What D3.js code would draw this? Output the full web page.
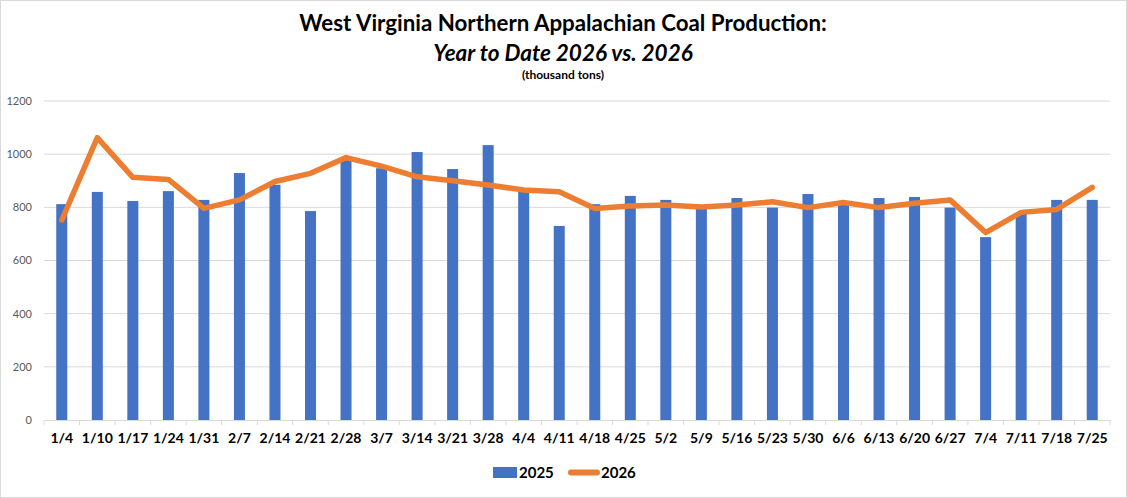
<!DOCTYPE html>
<html>
<head>
<meta charset="utf-8">
<script src="https://cdn.jsdelivr.net/npm/d3@7"></script>
<style>
  body { margin: 0; background: #fff; }
  svg { display: block; font-family: Lato, "Open Sans", sans-serif; }
</style>
</head>
<body>
<svg id="chart" width="1127" height="498"></svg>
<script>
// weeks ending
const weeks = ["1/4","1/10","1/17","1/24","1/31","2/7","2/14","2/21","2/28","3/7","3/14","3/21","3/28",
  "4/4","4/11","4/18","4/25","5/2","5/9","5/16","5/23","5/30","6/6","6/13","6/20","6/27","7/4","7/11","7/18","7/25"];
const prod2025 = [812,858,824,861,828,929,885,786,978,947,1008,944,1034,
  862,730,812,843,828,800,835,799,850,812,835,839,799,688,775,828,828];
const prod2026 = [752,1062,913,905,796,828,897,928,987,955,915,900,884,
  865,859,796,805,809,801,809,821,799,818,799,815,828,705,781,792,875];
const yTicks = [0,200,400,600,800,1000,1200];

const svg = d3.select("#chart");
const W = 1127, H = 498;
const m = {left: 44, right: 17, top: 101, bottom: 78};

// outer border
svg.append("rect").attr("x", 0.5).attr("y", 0.5).attr("width", W - 1).attr("height", H - 1)
  .attr("fill", "#fff").attr("stroke", "#d9d9d9");

const x = d3.scaleBand().domain(weeks).range([m.left, W - m.right]);
const y = d3.scaleLinear().domain([0, 1200]).range([H - m.bottom, m.top]);

// gridlines
svg.append("g").selectAll("line").data(yTicks.slice(1)).join("line")
  .attr("x1", m.left).attr("x2", W - m.right)
  .attr("y1", d => y(d)).attr("y2", d => y(d))
  .attr("stroke", "#d9d9d9");

// y labels
svg.append("g").selectAll("text").data(yTicks).join("text")
  .attr("x", 32).attr("y", d => y(d)).attr("dy", "0.35em")
  .attr("text-anchor", "end").attr("font-size", 11).attr("fill", "#595959")
  .text(d => d);

// bars
const bw = x.bandwidth() * 0.31;
svg.append("g").selectAll("rect").data(weeks).join("rect")
  .attr("x", (d) => x(d) + x.bandwidth() / 2 - bw / 2)
  .attr("y", (d, i) => y(prod2025[i]))
  .attr("width", bw)
  .attr("height", (d, i) => y(0) - y(prod2025[i]))
  .attr("fill", "#4472c4");

// x axis
const xAxis = svg.append("g").attr("transform", `translate(0,${y(0)})`)
  .call(d3.axisBottom(x).tickSize(0).tickPadding(13));
xAxis.select(".domain").attr("stroke", "#d9d9d9");
xAxis.selectAll("text").attr("font-size", 14).attr("font-weight", "bold").attr("fill", "#000")
  .attr("font-family", "Lato, sans-serif");
// category boundary ticks
svg.append("g").selectAll("line").data(weeks.concat(["end"])).join("line")
  .attr("x1", (d, i) => m.left + i * x.step()).attr("x2", (d, i) => m.left + i * x.step())
  .attr("y1", y(0)).attr("y2", y(0) + 5)
  .attr("stroke", "#d9d9d9");

// line
const line = d3.line().x((d, i) => x(weeks[i]) + x.bandwidth() / 2).y(d => y(d));
svg.append("path").datum(prod2026).attr("d", line)
  .attr("fill", "none").attr("stroke", "#ed7d31").attr("stroke-width", 5.5)
  .attr("stroke-linejoin", "round").attr("stroke-linecap", "round");

// titles
svg.append("text").attr("x", 563).attr("y", 31).attr("text-anchor", "middle")
  .attr("font-size", 22.3).attr("font-weight", "bold").attr("fill", "#000")
  .text("West Virginia Northern Appalachian Coal Production:");
svg.append("text").attr("x", 563).attr("y", 61).attr("text-anchor", "middle")
  .attr("font-size", 22.5).attr("font-weight", "bold").attr("font-style", "italic").attr("fill", "#000")
  .text("Year to Date 2026 vs. 2026");
svg.append("text").attr("x", 563).attr("y", 79).attr("text-anchor", "middle")
  .attr("font-size", 12).attr("font-weight", "bold").attr("fill", "#000")
  .text("(thousand tons)");

// legend
const lg = svg.append("g");
lg.append("rect").attr("x", 493).attr("y", 467).attr("width", 24).attr("height", 11).attr("fill", "#4472c4");
lg.append("text").attr("x", 519).attr("y", 478).attr("font-size", 15).attr("font-weight", "bold").text("2025");
lg.append("line").attr("x1", 571).attr("x2", 597).attr("y1", 472.5).attr("y2", 472.5)
  .attr("stroke", "#ed7d31").attr("stroke-width", 6).attr("stroke-linecap", "round");
lg.append("text").attr("x", 601).attr("y", 478).attr("font-size", 15).attr("font-weight", "bold").text("2026");
</script>
</body>
</html>
